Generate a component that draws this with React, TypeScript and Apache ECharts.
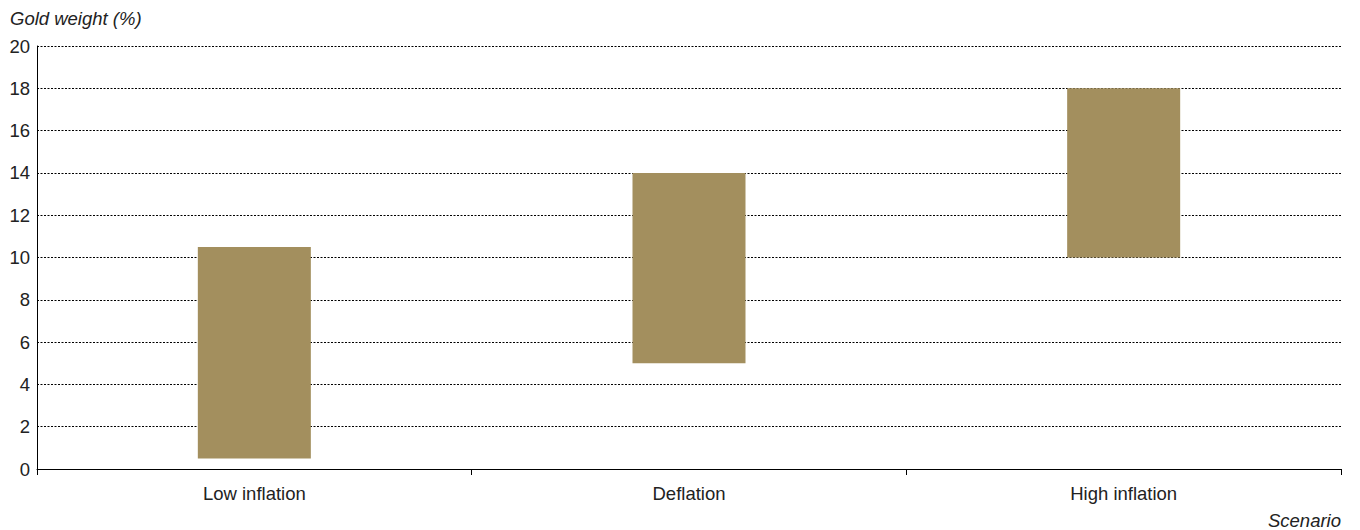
import React, { useEffect, useRef } from "react";
import * as echarts from "echarts";

const categories = ["Low inflation", "Deflation", "High inflation"];
const rangeLow = [0.5, 5, 10];
const rangeHigh = [10.5, 14, 18];
const yTicks = { min: 0, max: 20, interval: 2 };
const yTitle = "Gold weight (%)";
const xTitle = "Scenario";

const FONT = "'Liberation Sans', Arial, sans-serif";
const TEXT = "#222";
const GOLD = "#A38F5E";

export default function App() {
  const ref = useRef<HTMLDivElement>(null);
  useEffect(() => {
    if (!ref.current) return;
    const chart = echarts.init(ref.current, null, { renderer: "svg" });
    const spans = rangeHigh.map((h, i) => +(h - rangeLow[i]).toFixed(2));
    chart.setOption({
      animation: false,
      backgroundColor: "#fff",
      textStyle: { fontFamily: FONT },
      grid: { left: 37, right: 19, top: 46, bottom: 61 },
      graphic: [
        {
          type: "text",
          left: 10,
          top: 9,
          style: { text: yTitle, font: `italic 18.5px ${FONT}`, fill: TEXT },
        },
        {
          type: "text",
          right: 19,
          top: 511,
          style: { text: xTitle, font: `italic 18.5px ${FONT}`, fill: TEXT },
        },
      ],
      xAxis: {
        type: "category",
        data: categories,
        boundaryGap: true,
        axisLine: { show: true, lineStyle: { color: "#000", width: 1 } },
        axisTick: { show: true, length: 6, lineStyle: { color: "#000" } },
        axisLabel: { color: TEXT, fontSize: 18.5, fontFamily: FONT, margin: 15 },
        splitLine: { show: false },
      },
      yAxis: {
        type: "value",
        min: yTicks.min,
        max: yTicks.max,
        interval: yTicks.interval,
        axisLine: { show: true, lineStyle: { color: "#000", width: 1 } },
        axisTick: { show: false },
        axisLabel: { color: TEXT, fontSize: 18.5, fontFamily: FONT, margin: 7 },
        splitLine: {
          show: true,
          lineStyle: { color: "#000", width: 1.2, type: [2, 1.5] },
        },
      },
      series: [
        {
          type: "bar",
          stack: "r",
          data: rangeLow,
          barWidth: "26%",
          itemStyle: { color: "transparent" },
          silent: true,
        },
        {
          type: "bar",
          stack: "r",
          data: spans,
          barWidth: "26%",
          itemStyle: { color: GOLD },
          z: 3,
        },
      ],
    });
    return () => chart.dispose();
  }, []);
  return (
    <div
      ref={ref}
      style={{ position: "fixed", left: 0, top: 0, width: 1360, height: 530 }}
    />
  );
}
